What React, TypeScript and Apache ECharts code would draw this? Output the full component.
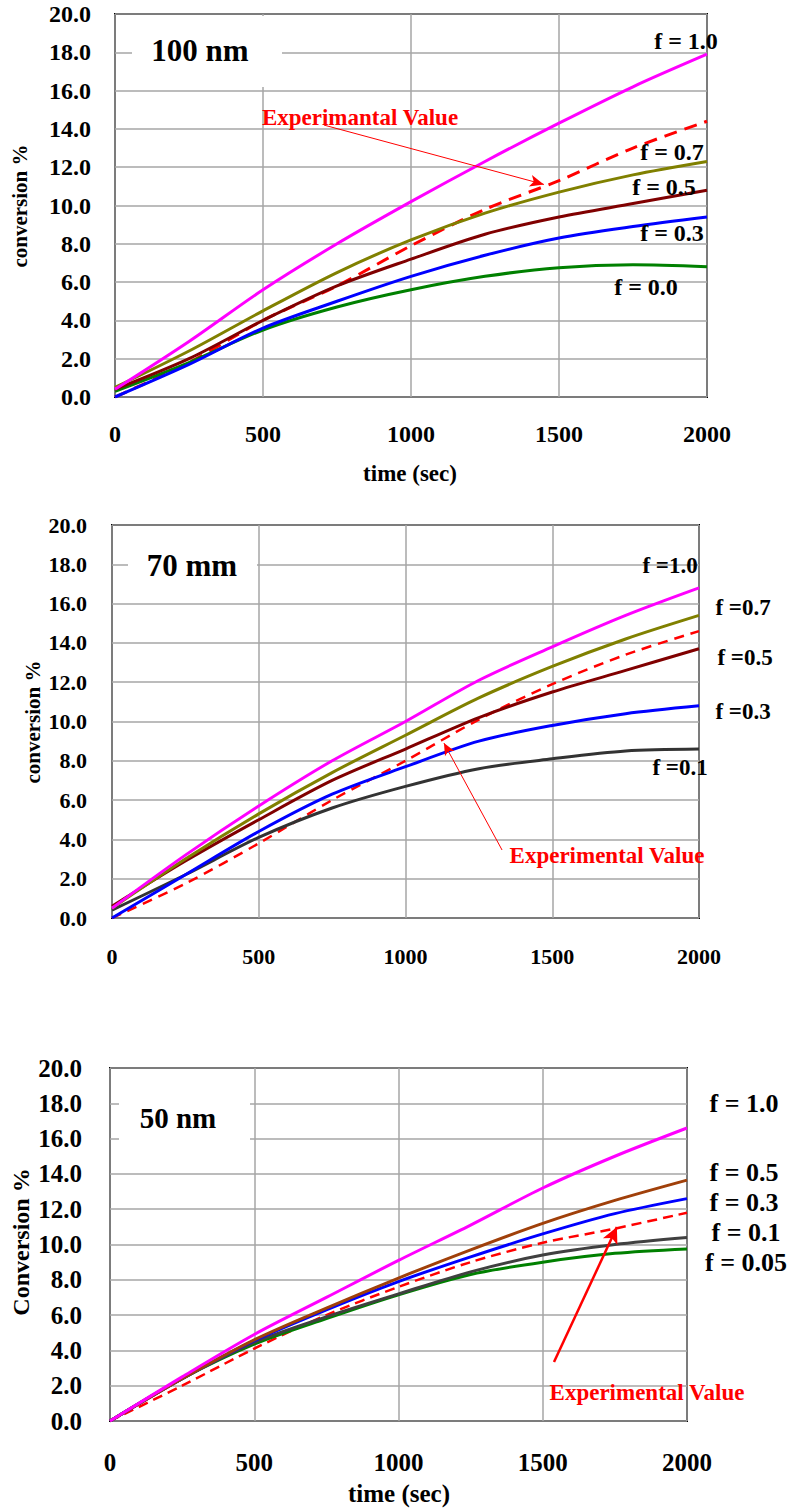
import React, { useEffect, useRef } from "react";
import * as echarts from "echarts";

// ---------- data ----------
const TIME = [0, 250, 500, 750, 1000, 1250, 1500, 1750, 2000];
const X_TICKS = [0, 500, 1000, 1500, 2000];

// 100 nm
const NM100_F10 = [0.4, 2.9, 5.6, 8.0, 10.2, 12.3, 14.3, 16.2, 17.9];
const NM100_F07 = [0.5, 2.4, 4.5, 6.5, 8.2, 9.6, 10.7, 11.6, 12.3];
const NM100_F05 = [0.4, 2.0, 4.0, 5.8, 7.2, 8.5, 9.4, 10.1, 10.8];
const NM100_F03 = [0.0, 1.7, 3.6, 5.0, 6.3, 7.4, 8.3, 8.9, 9.4];
const NM100_F00 = [0.3, 1.8, 3.5, 4.7, 5.6, 6.3, 6.75, 6.9, 6.8];
const NM100_EXP = [0.0, 1.8, 4.0, 5.8, 7.9, 9.8, 11.3, 13.0, 14.4];

// 70 mm
const MM70_F10 = [0.5, 3.2, 5.7, 8.0, 10.0, 12.1, 13.8, 15.4, 16.8];
const MM70_F07 = [0.5, 3.0, 5.3, 7.4, 9.3, 11.2, 12.8, 14.2, 15.4];
const MM70_F05 = [0.6, 2.9, 5.0, 7.0, 8.6, 10.2, 11.5, 12.6, 13.7];
const MM70_F03 = [0.0, 2.2, 4.4, 6.3, 7.7, 9.0, 9.8, 10.4, 10.8];
const MM70_F01 = [0.4, 2.2, 4.1, 5.6, 6.7, 7.6, 8.1, 8.5, 8.6];
const MM70_EXP = [0.0, 1.75, 3.8, 6.0, 8.0, 10.1, 11.9, 13.4, 14.6];

// 50 nm
const NM50_F10 = [0.0, 2.5, 4.9, 7.0, 9.1, 11.1, 13.2, 15.0, 16.6];
const NM50_F05 = [0.0, 2.4, 4.6, 6.4, 8.1, 9.7, 11.2, 12.5, 13.65];
const NM50_F03 = [0.0, 2.4, 4.55, 6.3, 7.9, 9.3, 10.6, 11.75, 12.6];
const NM50_F01 = [0.0, 2.4, 4.45, 5.9, 7.2, 8.45, 9.4, 10.0, 10.4];
const NM50_F005 = [0.0, 2.4, 4.35, 5.8, 7.15, 8.3, 9.0, 9.5, 9.75];
const NM50_EXP = [0.0, 2.0, 4.1, 6.0, 7.6, 9.0, 10.1, 10.9, 11.8];

// annotation arrows (data coordinates: [time, conversion])
const ARROW_100 = [[706, 14.2], [1449, 11.1]];
const ARROW_70 = [[1329, 3.46], [1131, 8.9]];
const ARROW_50 = [[1539, 3.34], [1757, 10.99]];

const FONT = '"Liberation Serif", "Times New Roman", serif';

const pairs = (vals: number[]) => TIME.map((t, i) => [t, vals[i]]);

function txt(text: string, x: number, y: number, size: number, color = "#000", rotation = 0) {
  return {
    type: "text",
    x,
    y,
    rotation,
    z: 100,
    style: {
      text,
      fill: color,
      font: `bold ${size}px ${FONT}`,
      align: "center",
      verticalAlign: "middle",
      textAlign: "center",
      textVerticalAlign: "middle",
    },
  };
}

function box(x: number, y: number, w: number, h: number) {
  return { type: "rect", z: 1, shape: { x, y, width: w, height: h }, style: { fill: "#fff" } };
}

export default function App() {
  const ref = useRef<HTMLDivElement>(null);

  useEffect(() => {
    document.body.style.margin = "0";
    if (!ref.current) return;
    const chart = echarts.init(ref.current, undefined, { renderer: "svg" });

    const grids = [
      { left: 115, top: 14, width: 592, height: 383 },
      { left: 112, top: 525, width: 587, height: 393 },
      { left: 110, top: 1068, width: 577, height: 353 },
    ];
    const tickSize = [24, 22, 25];
    const xMargin = [25, 27, 29];
    const yMargin = [24, 25, 28];

    const xAxis = grids.map((_, i) => ({
      type: "value",
      gridIndex: i,
      min: X_TICKS[0],
      max: X_TICKS[X_TICKS.length - 1],
      interval: 500,
      axisLine: { show: false },
      axisTick: { show: false },
      axisLabel: {
        fontFamily: FONT,
        fontWeight: "bold",
        fontSize: tickSize[i],
        color: "#000",
        margin: xMargin[i],
        formatter: (v: number) => String(v),
      },
      splitLine: { show: true, lineStyle: { color: "#a6a6a6", width: 1.5 } },
    }));
    const yAxis = grids.map((_, i) => ({
      type: "value",
      gridIndex: i,
      min: 0,
      max: 20,
      interval: 2,
      axisLine: { show: false },
      axisTick: { show: false },
      axisLabel: {
        fontFamily: FONT,
        fontWeight: "bold",
        fontSize: tickSize[i],
        color: "#000",
        margin: yMargin[i],
        formatter: (v: number) => v.toFixed(1),
      },
      splitLine: { show: true, lineStyle: { color: "#a6a6a6", width: 1.5 } },
    }));

    const line = (g: number, vals: number[], color: string, width = 3) => ({
      type: "line",
      xAxisIndex: g,
      yAxisIndex: g,
      data: pairs(vals),
      smooth: 0.3,
      showSymbol: false,
      symbol: "none",
      lineStyle: { color, width },
      z: 3,
      silent: true,
    });
    const exp = (g: number, vals: number[], dash: number[], width: number, arrow: number[][], arrowW: number, arrowSize: number[]) => ({
      type: "line",
      xAxisIndex: g,
      yAxisIndex: g,
      data: pairs(vals),
      smooth: 0.3,
      showSymbol: false,
      symbol: "none",
      lineStyle: { color: "#ff0000", width, type: dash },
      z: 2,
      silent: true,
      markLine: {
        silent: true,
        symbol: ["none", "arrow"],
        symbolSize: arrowSize,
        label: { show: false },
        lineStyle: { color: "#ff0000", width: arrowW, type: "solid" },
        data: [[{ coord: arrow[0] }, { coord: arrow[1] }]],
      },
    });

    const series = [
      exp(0, NM100_EXP, [13, 8], 3, ARROW_100, 1, [9, 14]),
      line(0, NM100_F00, "#008000"),
      line(0, NM100_F03, "#0000ff"),
      line(0, NM100_F05, "#800000"),
      line(0, NM100_F07, "#808000"),
      line(0, NM100_F10, "#ff00ff"),

      exp(1, MM70_EXP, [10, 7], 2.5, ARROW_70, 1, [8, 12]),
      line(1, MM70_F01, "#333333"),
      line(1, MM70_F03, "#0000ff"),
      line(1, MM70_F05, "#800000"),
      line(1, MM70_F07, "#808000"),
      line(1, MM70_F10, "#ff00ff"),

      exp(2, NM50_EXP, [10, 6], 2.5, ARROW_50, 2.5, [12, 16]),
      line(2, NM50_F005, "#008000"),
      line(2, NM50_F01, "#404040"),
      line(2, NM50_F03, "#0000ff"),
      line(2, NM50_F05, "#a0400a"),
      line(2, NM50_F10, "#ff00ff"),
    ];

    const graphic = [
      box(132, 16, 150, 71),
      box(128, 527, 129, 73),
      box(119, 1070, 131, 92),
      txt("100 nm", 200, 50, 31),
      txt("70 mm", 192, 565, 31),
      txt("50 nm", 178, 1118, 29),

      txt("conversion %", 20, 206, 21, "#000", Math.PI / 2),
      txt("time (sec)", 410, 473, 23),
      txt("conversion %", 33, 722, 21, "#000", Math.PI / 2),
      txt("Conversion %", 21, 1242, 24, "#000", Math.PI / 2),
      txt("time (sec)", 399, 1493, 25),

      txt("f = 1.0", 686, 41, 24),
      txt("f = 0.7", 672, 152, 24),
      txt("f = 0.5", 664, 187, 24),
      txt("f = 0.3", 672, 233, 24),
      txt("f = 0.0", 646, 287, 24),
      txt("Experimantal Value", 360, 117, 23, "#ff0000"),

      txt("f =1.0", 670, 565, 23),
      txt("f =0.7", 743, 607, 23),
      txt("f =0.5", 745, 657, 23),
      txt("f =0.3", 743, 711, 23),
      txt("f =0.1", 680, 767, 23),
      txt("Experimental Value", 607, 855, 23, "#ff0000"),

      txt("f = 1.0", 744, 1103, 26),
      txt("f = 0.5", 744, 1172, 26),
      txt("f = 0.3", 744, 1202, 26),
      txt("f = 0.1", 746, 1232, 26),
      txt("f = 0.05", 746, 1262, 26),
      txt("Experimental Value", 647, 1392, 23, "#ff0000"),
    ];

    chart.setOption({
      animation: false,
      backgroundColor: "#fff",
      grid: grids.map((g) => ({ ...g, show: true, borderColor: "#000", borderWidth: 2, backgroundColor: "transparent" })),
      xAxis,
      yAxis,
      series,
      graphic,
    });

    return () => chart.dispose();
  }, []);

  return <div ref={ref} style={{ width: 792, height: 1508 }} />;
}
